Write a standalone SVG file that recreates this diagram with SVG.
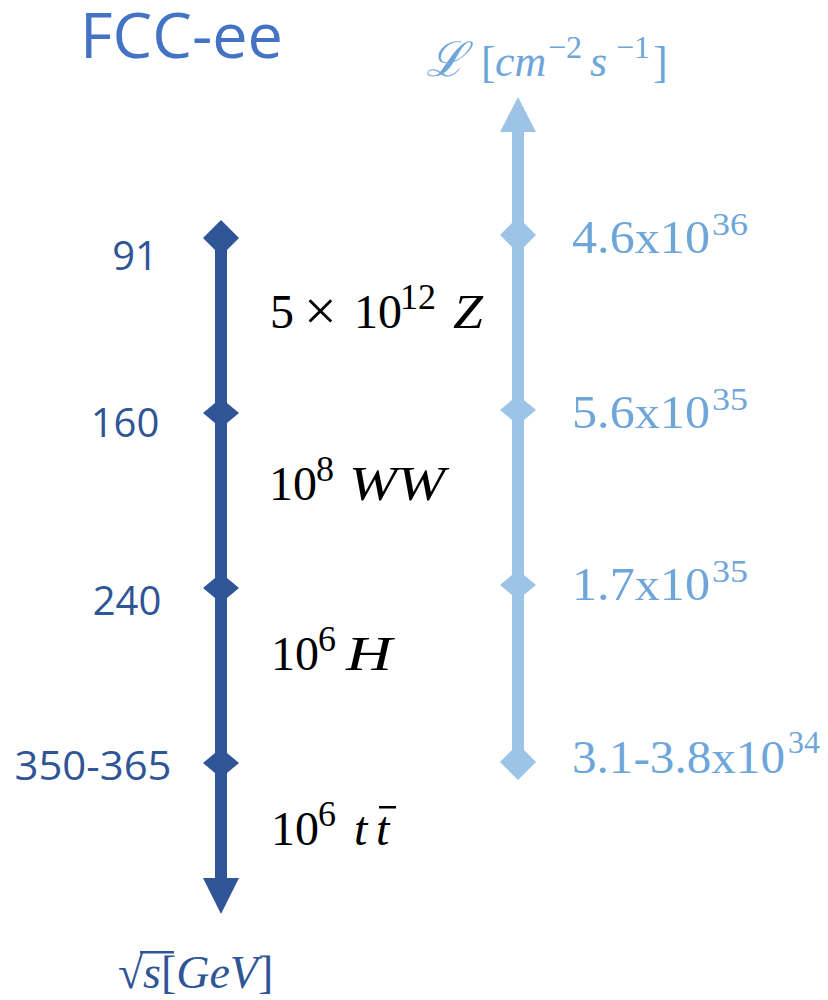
<svg xmlns="http://www.w3.org/2000/svg" width="828" height="1000" viewBox="0 0 828 1000">
<style>
.dark{fill:#2F5597}
.light{fill:#9DC3E6}
.lbl{font-family:"Open Sans","Liberation Sans",sans-serif;font-size:40px;fill:#2F5597}
.lum{font-family:"Liberation Serif",serif;font-size:46px;fill:#6EA6DA}
.lumsup{font-family:"Liberation Serif",serif;font-size:32px;fill:#6EA6DA}
.m{font-family:"Liberation Serif",serif;font-size:48px;fill:#000}
.msup{font-family:"Liberation Serif",serif;font-size:36px;fill:#000}
.it{font-style:italic}
</style>
<rect width="828" height="1000" fill="#fff"/>
<text id="title" x="80" y="58" font-family="'Open Sans','Liberation Sans',sans-serif" font-size="62" fill="#4472C4" textLength="203" lengthAdjust="spacingAndGlyphs">FCC-ee</text>

<g id="connectors">
  <rect class="dark" x="215" y="238" width="12" height="642"/>
  <polygon class="dark" points="203,878 239,878 221,914"/>
  <rect class="light" x="512" y="130" width="12" height="632"/>
  <polygon class="light" points="500,132 536,132 518,97"/>
</g>

<g id="energy-axis-label">
  <text x="118" y="988" font-family="'Liberation Serif','DejaVu Serif',serif" font-size="46" fill="#2F5597">√</text>
  <rect x="140" y="951" width="34" height="2.5" fill="#2F5597"/>
  <text x="143" y="988" font-family="'Liberation Serif',serif" font-size="46" fill="#2F5597"><tspan class="it">s</tspan>[<tspan class="it">GeV</tspan>]</text>
</g>
<g id="lumi-axis-label">
  <text x="426" y="76" font-family="'DejaVu Serif',serif" font-size="48" fill="#6EA6DA" font-style="italic">ℒ</text>
  <text x="481" y="77" font-family="'Liberation Serif',serif" font-size="44" fill="#6EA6DA">[</text>
  <text x="495" y="76" font-family="'Liberation Serif',serif" font-size="44" fill="#6EA6DA" font-style="italic">cm</text>
  <text x="548" y="58" font-family="'Liberation Serif',serif" font-size="32" fill="#6EA6DA">−2</text>
  <text x="590" y="76" font-family="'Liberation Serif',serif" font-size="44" fill="#6EA6DA" font-style="italic">s</text>
  <text x="616" y="58" font-family="'Liberation Serif',serif" font-size="32" fill="#6EA6DA">−1</text>
  <text x="653" y="77" font-family="'Liberation Serif',serif" font-size="44" fill="#6EA6DA">]</text>
</g>

<g id="node-91">
  <polygon class="dark" points="221,220 239,238 221,256 203,238"/>
  <text class="lbl" x="135" y="270" text-anchor="middle">91</text>
</g>
<g id="node-160">
  <polygon class="dark" points="221,398 239,413 221,428 203,413"/>
  <text class="lbl" x="125" y="437" text-anchor="middle">160</text>
</g>
<g id="node-240">
  <polygon class="dark" points="221,573 239,588 221,603 203,588"/>
  <text class="lbl" x="127" y="615" text-anchor="middle">240</text>
</g>
<g id="node-350">
  <polygon class="dark" points="221,748 239,763 221,778 203,763"/>
  <text class="lbl" x="93" y="780" text-anchor="middle" textLength="157" lengthAdjust="spacingAndGlyphs">350-365</text>
</g>

<g id="yield-Z">
  <text class="m" x="270" y="328">5</text>
  <text x="304" y="330" font-family="'Liberation Serif',serif" font-size="58" fill="#000">×</text>
  <text class="m" x="354" y="328">10</text>
  <text class="msup" x="400" y="309">12</text>
  <text class="m it" x="453" y="328" textLength="30" lengthAdjust="spacingAndGlyphs">Z</text>
</g>
<g id="yield-WW">
  <text class="m" x="269" y="500">10</text>
  <text class="msup" x="316" y="481">8</text>
  <text class="m it" x="349" y="500" textLength="96" lengthAdjust="spacingAndGlyphs">WW</text>
</g>
<g id="yield-H">
  <text class="m" x="271" y="670">10</text>
  <text class="msup" x="318" y="651">6</text>
  <text class="m it" x="346" y="670" textLength="46" lengthAdjust="spacingAndGlyphs">H</text>
</g>
<g id="yield-tt">
  <text class="m" x="271" y="845">10</text>
  <text class="msup" x="318" y="826">6</text>
  <text class="m it" x="354" y="845">t</text>
  <text class="m it" x="376" y="845">t</text>
  <rect x="379" y="806" width="17" height="2.5" fill="#000"/>
</g>

<g id="lumi-1">
  <polygon class="light" points="518,217 536,235 518,253 500,235"/>
  <text class="lum" x="572" y="253" textLength="138" lengthAdjust="spacingAndGlyphs">4.6x10</text>
  <text class="lumsup" x="712" y="235" textLength="36" lengthAdjust="spacingAndGlyphs">36</text>
</g>
<g id="lumi-2">
  <polygon class="light" points="518,395 536,410 518,425 500,410"/>
  <text class="lum" x="572" y="428" textLength="138" lengthAdjust="spacingAndGlyphs">5.6x10</text>
  <text class="lumsup" x="712" y="410" textLength="36" lengthAdjust="spacingAndGlyphs">35</text>
</g>
<g id="lumi-3">
  <polygon class="light" points="518,570 536,585 518,600 500,585"/>
  <text class="lum" x="572" y="600" textLength="138" lengthAdjust="spacingAndGlyphs">1.7x10</text>
  <text class="lumsup" x="712" y="582" textLength="36" lengthAdjust="spacingAndGlyphs">35</text>
</g>
<g id="lumi-4">
  <polygon class="light" points="518,744 536,762 518,780 500,762"/>
  <text class="lum" x="572" y="773" textLength="213" lengthAdjust="spacingAndGlyphs">3.1-3.8x10</text>
  <text class="lumsup" x="788" y="753" textLength="32" lengthAdjust="spacingAndGlyphs">34</text>
</g>
</svg>
